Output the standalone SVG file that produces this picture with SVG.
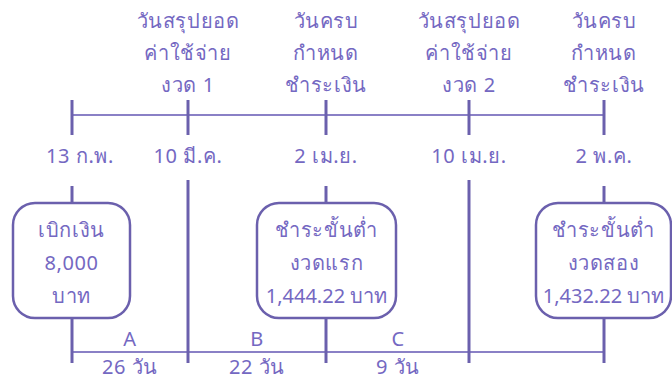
<svg xmlns="http://www.w3.org/2000/svg" width="672" height="380" viewBox="0 0 672 380">
<style>
.t{font-family:"Noto Sans","DejaVu Sans",sans-serif;font-size:20px;fill:#7468c2;text-anchor:middle;letter-spacing:0.6px}
.n{letter-spacing:0}
.v{stroke:#6b60ad;stroke-width:3;fill:none}
.h{stroke:#8a80c6;stroke-width:2;fill:none}
.box{fill:#fff;stroke:#6b60ad;stroke-width:2.5}
</style>
<rect width="672" height="380" fill="#fff"/>
<g id="connectors">
<line class="h" x1="72" y1="115" x2="604" y2="115"/>
<line class="v" x1="72" y1="100" x2="72" y2="135"/>
<line class="v" x1="188" y1="100" x2="188" y2="135"/>
<line class="v" x1="326" y1="100" x2="326" y2="135"/>
<line class="v" x1="469" y1="100" x2="469" y2="135"/>
<line class="v" x1="604" y1="100" x2="604" y2="135"/>
<line class="h" x1="72" y1="352" x2="604" y2="352"/>
<line class="v" x1="72" y1="186" x2="72" y2="203"/>
<line class="v" x1="72" y1="318" x2="72" y2="363"/>
<line class="v" x1="188" y1="180" x2="188" y2="363"/>
<line class="v" x1="326" y1="186" x2="326" y2="203"/>
<line class="v" x1="326" y1="318" x2="326" y2="363"/>
<line class="v" x1="469" y1="180" x2="469" y2="363"/>
<line class="v" x1="604" y1="186" x2="604" y2="203"/>
<line class="v" x1="604" y1="318" x2="604" y2="363"/>
</g>
<g id="top-labels">
<text class="t" x="188" y="28">วันสรุปยอด</text>
<text class="t" x="188" y="60">ค่าใช้จ่าย</text>
<text class="t" x="188" y="92">งวด 1</text>
<text class="t" x="326" y="28">วันครบ</text>
<text class="t" x="326" y="60">กำหนด</text>
<text class="t" x="326" y="92">ชำระเงิน</text>
<text class="t" x="469" y="28">วันสรุปยอด</text>
<text class="t" x="469" y="60">ค่าใช้จ่าย</text>
<text class="t" x="469" y="92">งวด 2</text>
<text class="t" x="604" y="28">วันครบ</text>
<text class="t" x="604" y="60">กำหนด</text>
<text class="t" x="604" y="92">ชำระเงิน</text>
</g>
<g id="dates">
<text class="t" x="80" y="163">13 ก.พ.</text>
<text class="t" x="188" y="163">10 มี.ค.</text>
<text class="t" x="326" y="163">2 เม.ย.</text>
<text class="t" x="469" y="163">10 เม.ย.</text>
<text class="t" x="604" y="163">2 พ.ค.</text>
</g>
<g id="node-withdraw">
<rect class="box" x="13" y="203" width="117" height="115" rx="22"/>
<text class="t" x="71.5" y="237">เบิกเงิน</text>
<text class="t" x="71.5" y="270">8,000</text>
<text class="t" x="71.5" y="303">บาท</text>
</g>
<g id="node-pay1">
<rect class="box" x="257" y="203" width="139" height="115" rx="22"/>
<text class="t" x="326.5" y="237">ชำระขั้นต่ำ</text>
<text class="t" x="326.5" y="270">งวดแรก</text>
<text class="t n" x="326.5" y="303">1,444.22 บาท</text>
</g>
<g id="node-pay2">
<rect class="box" x="536" y="203" width="135" height="115" rx="22"/>
<text class="t" x="603.5" y="237">ชำระขั้นต่ำ</text>
<text class="t" x="603.5" y="270">งวดสอง</text>
<text class="t n" x="603.5" y="303">1,432.22 บาท</text>
</g>
<g id="intervals">
<text class="t" x="130" y="346">A</text>
<text class="t" x="257" y="346">B</text>
<text class="t" x="398" y="346">C</text>
<text class="t" x="130" y="374">26 วัน</text>
<text class="t" x="257" y="374">22 วัน</text>
<text class="t" x="398" y="374">9 วัน</text>
</g>
</svg>
